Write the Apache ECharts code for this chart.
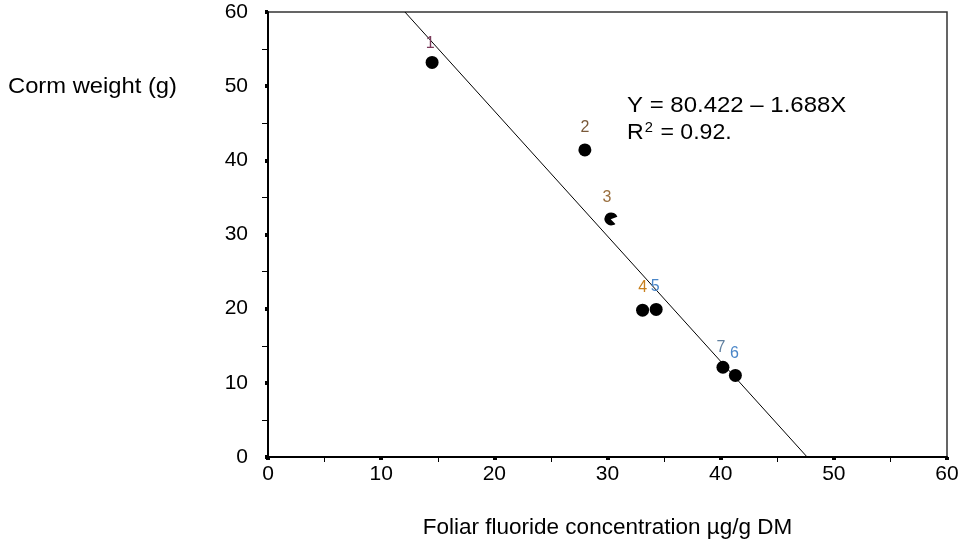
<!DOCTYPE html>
<html><head><meta charset="utf-8">
<script src="https://cdn.jsdelivr.net/npm/echarts@6/dist/echarts.min.js"></script>
<style>html,body{margin:0;padding:0;background:#fff}#c{width:973px;height:545px}</style>
</head><body><div id="c"></div>
<script>
var pointLabels = ['1','2','3','4','5','6','7'];
var xValues = [14.5, 28.0, 30.3, 33.1, 34.3, 41.3, 40.2];
var yValues = [53.2, 41.4, 32.1, 19.8, 19.9, 11.0, 12.1];
var labelColors = ['#7a3a5a','#7a5a3a','#9a7040','#c8801e','#4a86c8','#4a86c8','#6080a0'];
var labelOffsets = [[-2,1],[0,-3],[-4,-2],[0,-3],[-1,-3],[-1,-2],[-2,0]];
var fitLineX = [12.1, 47.64];
var fitLineY = [60, 0];
var xTicks = [0,10,20,30,40,50,60];
var yTicks = [0,10,20,30,40,50,60];
var equationText = 'Y = 80.422 \u2013 1.688X';

var chart = echarts.init(document.getElementById('c'));
var font = 'Liberation Sans, Arial, sans-serif';
var pieSymbol = 'path://M10,10 L20,6 A10,10 0 1 0 17,17 Z';
var scatterData = xValues.map(function(x,i){
  var d = {value:[x,yValues[i]], label:{show:true, formatter:pointLabels[i], position:'top', distance:5, offset:labelOffsets[i], color:labelColors[i], fontSize:16, fontFamily:font}};
  if (pointLabels[i] === '3') { d.symbol = pieSymbol; }
  return d;
});
chart.setOption({
  animation:false,
  grid:{left:268, right:26, top:12, bottom:88, show:true, borderColor:'#333', borderWidth:1.5},
  xAxis:{type:'value', min:xTicks[0], max:xTicks[xTicks.length-1], interval:10,
    axisLine:{show:true, lineStyle:{color:'#000', width:2}},
    axisTick:{show:true, inside:false, length:3, lineStyle:{color:'#000', width:4}},
    minorTick:{show:true, splitNumber:2, length:5, lineStyle:{color:'#000', width:1}},
    splitLine:{show:false},
    axisLabel:{color:'#000', fontSize:21, fontFamily:font, margin:7},
    name:'Foliar fluoride concentration \u00b5g/g DM', nameLocation:'middle', nameGap:59,
    nameTextStyle:{color:'#000', fontSize:22.5, fontFamily:font}},
  yAxis:{type:'value', min:yTicks[0], max:yTicks[yTicks.length-1], interval:10,
    axisLine:{show:true, lineStyle:{color:'#000', width:2}},
    axisTick:{show:true, inside:false, length:3, lineStyle:{color:'#000', width:4}},
    minorTick:{show:true, splitNumber:2, length:6, lineStyle:{color:'#000', width:1}},
    splitLine:{show:false},
    axisLabel:{color:'#000', fontSize:21, fontFamily:font, margin:20, padding:[8,0,0,0]}},
  graphic:[
    {type:'text', x:8, y:76, scaleX:1.08, style:{text:'Corm weight (g)', fill:'#000', font:'22px '+font}},
    {type:'text', x:627, y:95, scaleX:1.09, style:{text:equationText, fill:'#000', font:'22px '+font}},
    {type:'text', x:627, y:121, scaleX:1.05, style:{rich:{a:{fontSize:22, fontFamily:font, fill:'#000'}, s:{fontSize:14, fontFamily:font, fill:'#000', verticalAlign:'top', padding:[0,1,10,1]}}, text:'{a|R}{s|2}{a| = 0.92.}'}}
  ],
  series:[
    {type:'line', data:fitLineX.map(function(x,i){return [x,fitLineY[i]];}), symbol:'none', lineStyle:{color:'#000', width:1}, silent:true, z:1},
    {type:'scatter', data:scatterData, symbol:'circle', symbolSize:13, itemStyle:{color:'#000', opacity:1}, z:3}
  ]
});
</script></body></html>
